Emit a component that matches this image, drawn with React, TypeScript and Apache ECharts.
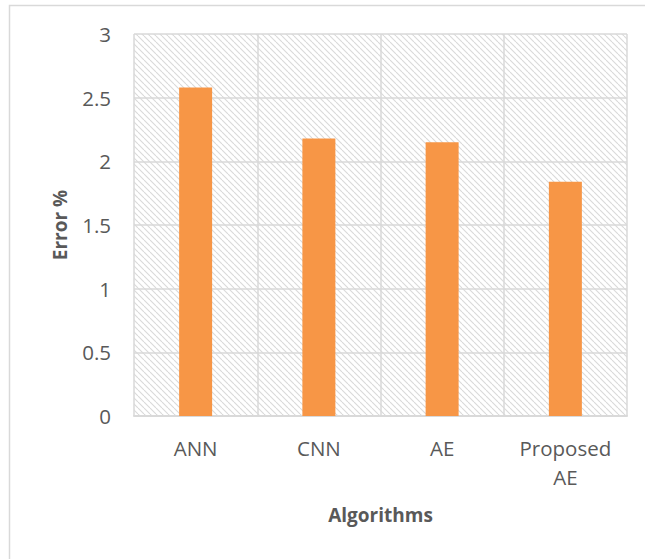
import React, { useEffect, useRef } from "react";
import * as echarts from "echarts";

const categories = ["ANN", "CNN", "AE", "Proposed\nAE"];
const errorValues = [2.58, 2.18, 2.15, 1.84];
const yTicks = { min: 0, max: 3, interval: 0.5 };

function makeHatch(): HTMLCanvasElement {
  const s = 6;
  const c = document.createElement("canvas");
  c.width = s;
  c.height = s;
  const ctx = c.getContext("2d")!;
  ctx.fillStyle = "#ffffff";
  ctx.fillRect(0, 0, s, s);
  ctx.strokeStyle = "#d9d9d9";
  ctx.lineWidth = 1.1;
  for (const o of [-s, 0, s]) {
    ctx.beginPath();
    ctx.moveTo(o, 0);
    ctx.lineTo(o + s, s);
    ctx.stroke();
  }
  return c;
}

export default function App() {
  const ref = useRef<HTMLDivElement>(null);
  useEffect(() => {
    if (!ref.current) return;
    const chart = echarts.init(ref.current, undefined, { renderer: "svg" });
    const hatch = makeHatch();
    const textColor = "#595959";
    const font = "Open Sans";
    chart.setOption({
      animation: false,
      backgroundColor: "#ffffff",
      graphic: [
        {
          type: "rect",
          shape: { x: 9.5, y: 5.5, width: 700, height: 600 },
          style: { fill: "none", stroke: "#d9d9d9", lineWidth: 1.5 },
          silent: true,
          z: -1,
        },
      ],
      grid: {
        left: 134,
        right: 18,
        top: 34,
        bottom: 143,
        show: true,
        borderWidth: 0,
        backgroundColor: { image: hatch, repeat: "repeat" },
      },
      xAxis: {
        type: "category",
        data: categories,
        name: "Algorithms",
        nameLocation: "middle",
        nameGap: 89.5,
        nameTextStyle: { color: textColor, fontFamily: font, fontSize: 19, fontWeight: "bold" },
        axisLine: { show: true, lineStyle: { color: "#d9d9d9", width: 2 } },
        axisTick: { show: false },
        splitLine: { show: true, lineStyle: { color: "#d9d9d9", width: 1.5 } },
        axisLabel: {
          color: textColor,
          fontFamily: font,
          fontSize: 20.5,
          lineHeight: 29,
          margin: 17.5,
          interval: 0,
        },
      },
      yAxis: {
        type: "value",
        min: yTicks.min,
        max: yTicks.max,
        interval: yTicks.interval,
        name: "Error %",
        nameLocation: "middle",
        nameGap: 64.5,
        nameTextStyle: { color: textColor, fontFamily: font, fontSize: 19, fontWeight: "bold" },
        axisLine: { show: false },
        axisTick: { show: false },
        splitLine: { show: true, lineStyle: { color: "#d9d9d9", width: 1.5 } },
        axisLabel: { color: textColor, fontFamily: font, fontSize: 20.5, margin: 23 },
      },
      series: [
        {
          type: "bar",
          data: errorValues,
          barWidth: 33,
          itemStyle: { color: "#F79646" },
        },
      ],
    });
    return () => chart.dispose();
  }, []);
  return (
    <div
      ref={ref}
      style={{ position: "absolute", left: 0, top: 0, width: 645, height: 559 }}
    />
  );
}
